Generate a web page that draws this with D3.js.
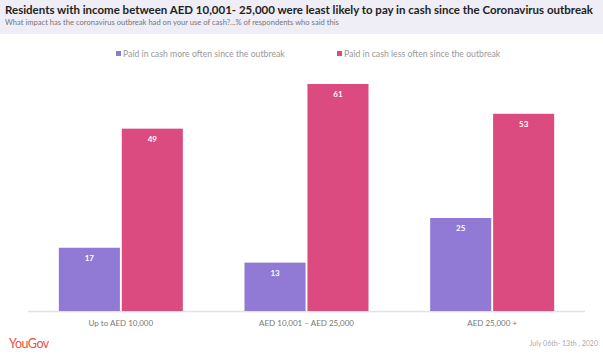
<!DOCTYPE html>
<html><head><meta charset="utf-8">
<script src="https://cdn.jsdelivr.net/npm/d3@7"></script>
<style>body{margin:0;background:#fff}svg{display:block;font-family:Lato,"Open Sans",sans-serif}</style>
</head><body><svg id="c" width="603" height="357"></svg>
<script>
const categories = ["Up to AED 10,000", "AED 10,001 \u2013 AED 25,000", "AED 25,000 +"];
const seriesNames = ["Paid in cash more often since the outbreak", "Paid in cash less often since the outbreak"];
const moreOften = [17, 13, 25];
const lessOften = [49, 61, 53];
const colors = ["#9179d6", "#dc4b7f"];

const svg = d3.select("#c");
svg.append("rect").attr("x",0).attr("y",0).attr("width",603).attr("height",34).attr("fill","#efedf6");
svg.append("text").attr("x",5).attr("y",14).attr("font-size",11.6).attr("font-weight",700).attr("fill","#222")
  .attr("textLength",588).attr("lengthAdjust","spacingAndGlyphs")
  .text("Residents with income between AED 10,001- 25,000 were least likely to pay in cash since the  Coronavirus outbreak");
svg.append("text").attr("x",5).attr("y",24.5).attr("font-size",7.6).attr("fill","#777")
  .text("What impact has the coronavirus outbreak had on your use of cash?...% of respondents who said this");

const baseY = 311;
const x = d3.scaleBand().domain(categories).range([28, 585]).padding(0);
const sub = d3.scaleBand().domain([0,1]).range([0, 124]).paddingInner(0.03);
const y = d3.scaleLinear().domain([0, 61]).range([baseY, 84]);

svg.append("line").attr("x1",28).attr("x2",585).attr("y1",baseY+0.5).attr("y2",baseY+0.5).attr("stroke","#e3e3e3").attr("stroke-width",1.5);

const data = categories.map((c,i)=>({c, vals:[moreOften[i], lessOften[i]]}));
const g = svg.selectAll("g.grp").data(data).join("g").attr("class","grp")
  .attr("transform", d=>`translate(${x(d.c)+x.bandwidth()/2-62},0)`);
g.selectAll("rect").data(d=>d.vals).join("rect")
  .attr("x",(v,i)=>sub(i)).attr("width",sub.bandwidth())
  .attr("y",v=>y(v)).attr("height",v=>baseY-y(v))
  .attr("fill",(v,i)=>colors[i]);
g.selectAll("text").data(d=>d.vals).join("text")
  .attr("x",(v,i)=>sub(i)+sub.bandwidth()/2).attr("y",v=>y(v)+13)
  .attr("text-anchor","middle").attr("font-size",8).attr("font-weight",700).attr("fill","#fff")
  .text(v=>v);

svg.selectAll("text.cat").data(categories).join("text").attr("class","cat")
  .attr("x",d=>x(d)+x.bandwidth()/2).attr("y",326).attr("text-anchor","middle")
  .attr("font-size",8).attr("fill","#777").text(d=>d);

const legX = [116, 337];
seriesNames.forEach((s,i)=>{
  svg.append("rect").attr("x",legX[i]).attr("y",51).attr("width",5).attr("height",5).attr("fill",colors[i]);
  svg.append("text").attr("x",legX[i]+7).attr("y",56.5).attr("font-size",8.7).attr("fill","#999").text(s);
});

svg.append("text").attr("x",9).attr("y",348).attr("font-size",12.5).attr("fill","#f04e3e").attr("letter-spacing",-0.5).text("YouGov");
svg.append("text").attr("x",598).attr("y",346).attr("text-anchor","end").attr("font-size",7).attr("fill","#aaa").text("July 06th- 13th , 2020");
</script></body></html>
